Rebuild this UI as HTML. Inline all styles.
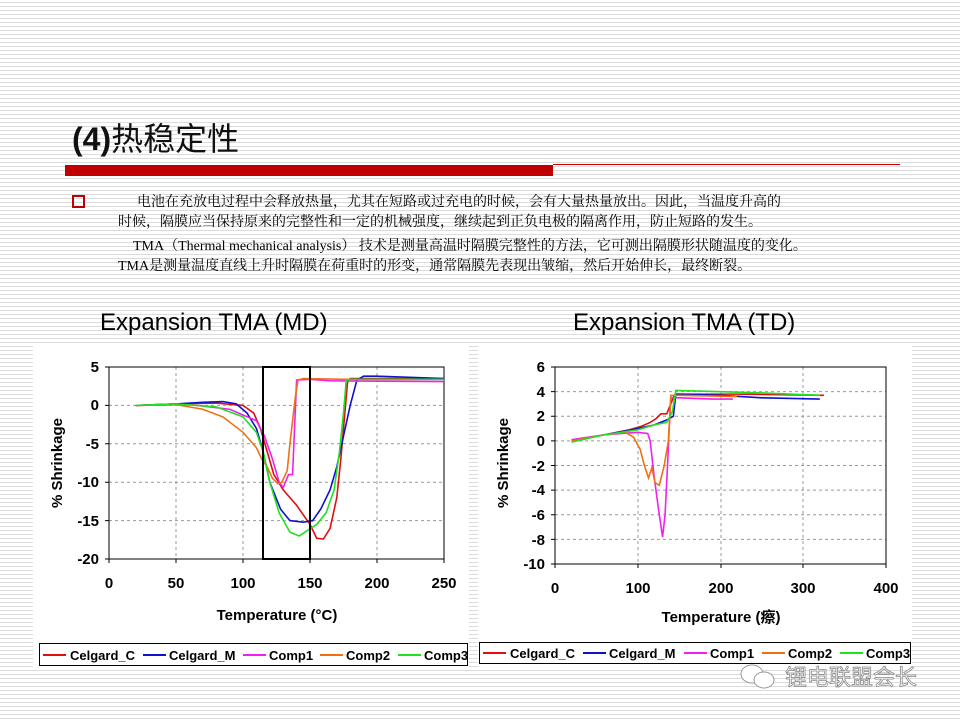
<!DOCTYPE html>
<html><head><meta charset="utf-8"><style>
body{margin:0;width:960px;height:720px;overflow:hidden;position:relative;
background:repeating-linear-gradient(180deg,#fff 0px,#fff 2px,#dcdcdc 2px,#dcdcdc 3px,#fff 3px,#fff 4px);
font-family:"Liberation Sans","Noto Sans CJK SC",sans-serif;}
.t{position:absolute;white-space:nowrap}
.p{font-family:"Liberation Serif","Noto Serif CJK SC",serif;font-size:14px;color:#000}
</style></head><body>
<div class="t" style="left:72px;top:114px;font-size:32px;color:#111"><b>(4)</b><span style="font-family:'Noto Sans CJK SC',sans-serif">热稳定性</span></div>
<div style="position:absolute;left:65px;top:165px;width:488px;height:11px;background:#c00000"></div>
<div style="position:absolute;left:553px;top:164px;width:347px;height:1px;background:#c00000"></div>
<div style="position:absolute;left:72px;top:195px;width:9px;height:9px;border:2px solid #c00000"></div>
<div class="t p" style="left:137px;top:191px">电池在充放电过程中会释放热量，尤其在短路或过充电的时候，会有大量热量放出。因此，当温度升高的</div>
<div class="t p" style="left:118px;top:211px">时候，隔膜应当保持原来的完整性和一定的机械强度，继续起到正负电极的隔离作用，防止短路的发生。</div>
<div class="t p" style="left:133px;top:235px">TMA（Thermal mechanical analysis） 技术是测量高温时隔膜完整性的方法，它可测出隔膜形状随温度的变化。</div>
<div class="t p" style="left:118px;top:255px">TMA是测量温度直线上升时隔膜在荷重时的形变，通常隔膜先表现出皱缩，然后开始伸长，最终断裂。</div>
<div class="t" style="left:100px;top:309px;font-size:24px;color:#000">Expansion TMA (MD)</div>
<div class="t" style="left:573px;top:309px;font-size:24px;color:#000">Expansion TMA (TD)</div>
<svg width="960" height="720" style="position:absolute;left:0;top:0" font-family="Liberation Sans, Noto Sans CJK SC, sans-serif" font-weight="bold">
<rect x="33" y="343" width="436" height="326" fill="#fff"/>
<rect x="478" y="343" width="434" height="326" fill="#fff"/>
<g stroke="#999" stroke-dasharray="3,3" stroke-width="1">
<line x1="176" y1="367" x2="176" y2="559"/><line x1="243" y1="367" x2="243" y2="559"/><line x1="310" y1="367" x2="310" y2="559"/><line x1="377" y1="367" x2="377" y2="559"/>
<line x1="109" y1="405.4" x2="444" y2="405.4"/><line x1="109" y1="443.8" x2="444" y2="443.8"/><line x1="109" y1="482.2" x2="444" y2="482.2"/><line x1="109" y1="520.6" x2="444" y2="520.6"/>
</g>
<g stroke="#000" stroke-width="1" fill="none">
<rect x="109" y="367" width="335" height="192"/>
<path d="M105 367H109M105 405.4H109M105 443.8H109M105 482.2H109M105 520.6H109M105 559H109M109 559V563M176 559V563M243 559V563M310 559V563M377 559V563M444 559V563"/>
</g>
<g font-size="15" text-anchor="end"><text x="99" y="372">5</text><text x="99" y="410">0</text><text x="99" y="449">-5</text><text x="99" y="487">-10</text><text x="99" y="526">-15</text><text x="99" y="564">-20</text></g>
<g font-size="15" text-anchor="middle"><text x="109" y="588">0</text><text x="176" y="588">50</text><text x="243" y="588">100</text><text x="310" y="588">150</text><text x="377" y="588">200</text><text x="444" y="588">250</text></g>
<text x="277" y="620" font-size="15" text-anchor="middle">Temperature (°C)</text>
<text transform="translate(62,463) rotate(-90)" font-size="15" text-anchor="middle">% Shrinkage</text>
<g transform="translate(109,405.4) scale(1.34,-7.68)" fill="none" stroke-width="1.6">
<path vector-effect="non-scaling-stroke" stroke="#e01010" d="M20,0 50,0.2 80,0.3 100,0 108,-1 113,-3 118,-6 123,-9 130,-11 140,-13 150,-15.5 155,-17.3 160,-17.4 165,-16 170,-12 173,-7 176,-1 178,3 180,3.5 250,3.5"/>
<path vector-effect="non-scaling-stroke" stroke="#1010d0" d="M20,0 50,0.2 70,0.4 85,0.5 95,0.2 103,-1 110,-3 115,-6 120,-10 128,-13.5 135,-15 145,-15.2 152,-15 158,-13.5 165,-11 170,-8 175,-4 180,0 185,3.3 190,3.8 200,3.8 250,3.5"/>
<path vector-effect="non-scaling-stroke" stroke="#f020f0" d="M20,0 60,0.1 90,-0.5 110,-2 116,-4 122,-7 127,-10 130,-10.7 134,-9 137,-9 140,3.3 150,3.4 165,3.2 250,3.1"/>
<path vector-effect="non-scaling-stroke" stroke="#f07010" d="M20,0 50,0.1 70,-0.5 85,-1.5 100,-3.5 110,-5.5 114,-7 118,-8 122,-9.5 126,-10.2 129,-10 133,-8.5 135,-5 137,-2 139,1 141,3.3 145,3.5 175,3.4 250,3.4"/>
<path vector-effect="non-scaling-stroke" stroke="#20e020" d="M20,0 50,0.2 80,-0.2 100,-1.5 110,-3.5 115,-6 120,-10 127,-14 135,-16.5 142,-17 148,-16.3 155,-15.5 162,-14 168,-11 172,-6 175,-1 177,3.2 180,3.4 250,3.4"/>
</g>
<rect x="263" y="367" width="47" height="192" fill="none" stroke="#000" stroke-width="2"/>
<rect x="39.5" y="643.5" width="428" height="22" fill="#fff" stroke="#000"/>
<g font-size="13"><line x1="43" y1="655" x2="66" y2="655" stroke="#e01010" stroke-width="2"/><text x="70" y="660">Celgard_C</text>
<line x1="143" y1="655" x2="166" y2="655" stroke="#1010d0" stroke-width="2"/><text x="169" y="660">Celgard_M</text>
<line x1="243" y1="655" x2="266" y2="655" stroke="#f020f0" stroke-width="2"/><text x="269" y="660">Comp1</text>
<line x1="320" y1="655" x2="343" y2="655" stroke="#f07010" stroke-width="2"/><text x="346" y="660">Comp2</text>
<line x1="398" y1="655" x2="421" y2="655" stroke="#20e020" stroke-width="2"/><text x="424" y="660">Comp3</text></g>
<g stroke="#999" stroke-dasharray="3,3" stroke-width="1">
<line x1="638" y1="367" x2="638" y2="564"/><line x1="721" y1="367" x2="721" y2="564"/><line x1="803" y1="367" x2="803" y2="564"/>
<line x1="555" y1="391.6" x2="886" y2="391.6"/><line x1="555" y1="416.3" x2="886" y2="416.3"/><line x1="555" y1="440.9" x2="886" y2="440.9"/><line x1="555" y1="465.5" x2="886" y2="465.5"/><line x1="555" y1="490.1" x2="886" y2="490.1"/><line x1="555" y1="514.8" x2="886" y2="514.8"/><line x1="555" y1="539.4" x2="886" y2="539.4"/>
</g>
<g stroke="#000" stroke-width="1" fill="none">
<rect x="555" y="367" width="331" height="197"/>
<path d="M551 367H555M551 391.6H555M551 416.3H555M551 440.9H555M551 465.5H555M551 490.1H555M551 514.8H555M551 539.4H555M551 564H555M555 564V568M638 564V568M721 564V568M803 564V568M886 564V568"/>
</g>
<g font-size="15" text-anchor="end"><text x="545" y="372">6</text><text x="545" y="397">4</text><text x="545" y="421">2</text><text x="545" y="446">0</text><text x="545" y="471">-2</text><text x="545" y="495">-4</text><text x="545" y="520">-6</text><text x="545" y="545">-8</text><text x="545" y="569">-10</text></g>
<g font-size="15" text-anchor="middle"><text x="555" y="593">0</text><text x="638" y="593">100</text><text x="721" y="593">200</text><text x="803" y="593">300</text><text x="886" y="593">400</text></g>
<text x="721" y="622" font-size="15" text-anchor="middle">Temperature (瘵)</text>
<text transform="translate(508,463) rotate(-90)" font-size="15" text-anchor="middle">% Shrinkage</text>
<g transform="translate(555,440.9) scale(0.8275,-12.31)" fill="none" stroke-width="1.6">
<path vector-effect="non-scaling-stroke" stroke="#e01010" d="M20,0 60,0.5 90,0.9 105,1.2 115,1.5 122,1.8 128,2.2 135,2.2 140,3 144,3.7 150,3.8 220,3.8 325,3.7"/>
<path vector-effect="non-scaling-stroke" stroke="#1010d0" d="M20,0 60,0.5 100,1.0 120,1.3 135,1.7 143,2 146,3.8 200,3.7 250,3.5 320,3.4"/>
<path vector-effect="non-scaling-stroke" stroke="#f020f0" d="M20,0.1 60,0.5 100,0.7 112,0.6 115,0 120,-3 125,-5.5 130,-7.8 133,-6 136,-2 138,1 140,3.5 150,3.5 190,3.4 215,3.4"/>
<path vector-effect="non-scaling-stroke" stroke="#f07010" d="M20,0 60,0.5 85,0.7 95,0.3 103,-0.7 108,-2 113,-3 117,-2.2 121,-3.4 126,-3.6 132,-2 137,0 140,3.7 150,3.7 220,3.6"/>
<path vector-effect="non-scaling-stroke" stroke="#20e020" d="M20,-0.1 60,0.5 100,0.9 120,1.3 135,1.5 142,2.4 146,4.1 200,4 250,3.9 320,3.7"/>
</g>
<rect x="479.5" y="642.5" width="431" height="21" fill="#fff" stroke="#000"/>
<g font-size="13"><line x1="483" y1="653" x2="506" y2="653" stroke="#e01010" stroke-width="2"/><text x="510" y="658">Celgard_C</text>
<line x1="583" y1="653" x2="606" y2="653" stroke="#1010d0" stroke-width="2"/><text x="609" y="658">Celgard_M</text>
<line x1="684" y1="653" x2="707" y2="653" stroke="#f020f0" stroke-width="2"/><text x="710" y="658">Comp1</text>
<line x1="762" y1="653" x2="785" y2="653" stroke="#f07010" stroke-width="2"/><text x="788" y="658">Comp2</text>
<line x1="840" y1="653" x2="863" y2="653" stroke="#20e020" stroke-width="2"/><text x="866" y="658">Comp3</text></g>
<g fill="#fff" stroke="#999" stroke-width="1"><ellipse cx="752" cy="674" rx="11" ry="9"/><ellipse cx="764" cy="680" rx="10" ry="8"/></g>
<text x="785" y="685" font-size="22" font-weight="normal" fill="#fff" stroke="#888" stroke-width="0.8" font-family="Noto Sans CJK SC, sans-serif">锂电联盟会长</text>
</svg>
</body></html>
